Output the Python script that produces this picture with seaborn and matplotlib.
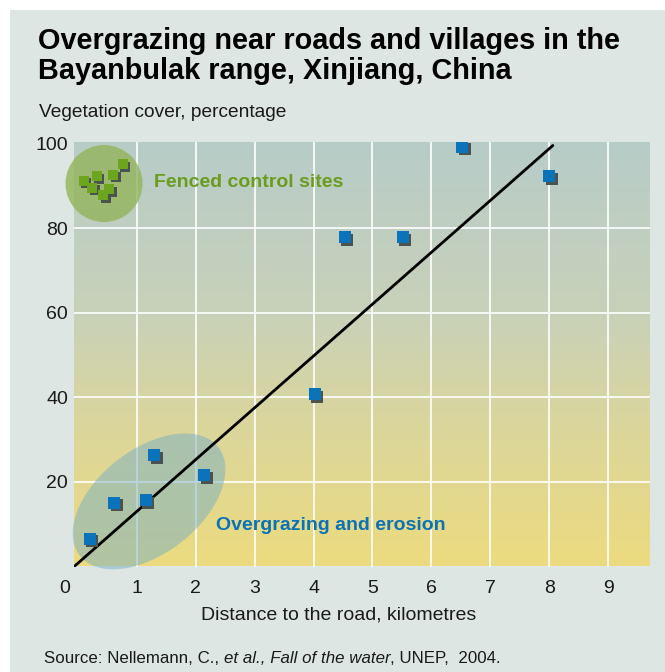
import numpy as np
import matplotlib
matplotlib.use("Agg")
import matplotlib.pyplot as plt
import seaborn as sns
from matplotlib import font_manager
from matplotlib.colors import LinearSegmentedColormap
from matplotlib.patches import Ellipse, Rectangle
from matplotlib.transforms import ScaledTranslation

# roadside / village sites (blue) and fenced control sites (green)
road_km = [0.20, 0.62, 1.15, 1.30, 2.15, 4.02, 4.53, 5.51, 6.52, 8.00]
road_cover = [6.6, 15.1, 15.7, 26.4, 21.6, 40.8, 78.0, 78.0, 99.3, 92.4]
fenced_km = [0.10, 0.24, 0.32, 0.43, 0.53, 0.60, 0.76]
fenced_cover = [91.3, 89.6, 92.4, 87.9, 89.3, 92.7, 95.2]
trend_km = [-0.06, 8.06]
trend_cover = [0.0, 99.6]
x_ticks = list(range(10))
y_ticks = [20, 40, 60, 80, 100]

names = {f.name for f in font_manager.fontManager.ttflist}
FONT = 'Liberation Sans Narrow' if 'Liberation Sans Narrow' in names else 'Liberation Sans'

sns.set_theme(style="white")
plt.rcParams['font.family'] = [FONT, 'DejaVu Sans']

DPI = 100
fig = plt.figure(figsize=(6.65, 6.72), dpi=DPI, facecolor='white')
fig.add_artist(Rectangle((10/665, 0), 1, 662/672, transform=fig.transFigure,
                         facecolor='#dde6e3', edgecolor='none', zorder=-1))

ax = fig.add_axes([74/665, (672-566.5)/672, 576/665, 424.8/672])
ax.set_facecolor('none')
XL = (-0.063, 9.708)
YL = (0, 100.5)

# background gradient, yellow at the bottom to grey-teal at the top
cmap = LinearSegmentedColormap.from_list('bg', [(0, '#ecdb7f'), (0.3, '#dcd699'),
                                                (0.6, '#c8d1b9'), (1, '#b7ccc8')])
ax.imshow(np.linspace(1, 0, 256).reshape(-1, 1), cmap=cmap, aspect='auto',
          extent=[XL[0], XL[1], YL[0], YL[1]], zorder=0, vmin=0, vmax=1)

for xv in x_ticks[1:]:
    ax.axvline(xv, color='white', lw=1.2, zorder=1)
for yv in y_ticks[:-1]:
    ax.axhline(yv, color='white', lw=1.2, zorder=1)


def blob(cx, cy, w_px, h_px, angle, color, alpha):
    tr = fig.dpi_scale_trans + ScaledTranslation(cx, cy, ax.transData)
    e = Ellipse((0, 0), w_px/DPI, h_px/DPI, angle=angle, transform=tr,
                facecolor=color, edgecolor='none', alpha=alpha, zorder=2, clip_on=False)
    ax.add_patch(e)


blob(0.446, 90.6, 77, 77, 0, '#93b45a', 0.8)
blob(1.21, 15.4, 176, 104, 38, '#78afc4', 0.5)

sns.lineplot(x=trend_km, y=trend_cover, color='black', lw=2.0, ax=ax, zorder=3)

shadow = ax.transData + ScaledTranslation(2.7/DPI, -2.7/DPI, fig.dpi_scale_trans)
for xs, ys, col, sz in [(road_km, road_cover, '#0a73ba', 63), (fenced_km, fenced_cover, '#6ea51f', 57)]:
    sns.scatterplot(x=xs, y=ys, marker='s', s=sz, color='#4b5350', linewidth=0, ax=ax, zorder=4)
    ax.collections[-1].set_offset_transform(shadow)
    sns.scatterplot(x=xs, y=ys, marker='s', s=sz, color=col, linewidth=0, ax=ax, zorder=5)

ax.text(1.30, 90.9, 'Fenced control sites', color='#6a9c1e', fontsize=14,
        fontweight='bold', va='center', ha='left', zorder=6)
ax.text(2.34, 9.7, 'Overgrazing and erosion', color='#0a72b8', fontsize=14,
        fontweight='bold', va='center', ha='left', zorder=6)

ax.set_xlim(*XL)
ax.set_ylim(*YL)
ax.set_xticks(x_ticks)
ax.set_yticks(y_ticks)
ax.tick_params(axis='x', length=0, pad=10, labelsize=14, colors='#1a1a1a')
ax.tick_params(axis='y', length=0, pad=4.3, labelsize=14, colors='#1a1a1a')
lbl0 = ax.get_xticklabels()[0]
lbl0.set_transform(lbl0.get_transform() + ScaledTranslation(-13/DPI, 0, fig.dpi_scale_trans))
for s in ax.spines.values():
    s.set_visible(False)


def fx(px):
    return px / 665


def fy(py):
    return 1 - py / 672


fig.text(fx(38), fy(49), 'Overgrazing near roads and villages in the', fontsize=20.8,
         fontweight='bold', va='baseline', ha='left', color='black')
fig.text(fx(38), fy(79), 'Bayanbulak range, Xinjiang, China', fontsize=20.8,
         fontweight='bold', va='baseline', ha='left', color='black')
fig.text(fx(39), fy(116.7), 'Vegetation cover, percentage', fontsize=13.8,
         va='baseline', ha='left', color='#1a1a1a')
fig.text(fx(338.4), fy(620), 'Distance to the road, kilometres', fontsize=14,
         va='baseline', ha='center', color='#1a1a1a')

t1 = fig.text(fx(43.7), fy(666), 'Source: Nellemann, C., ', fontsize=12.2,
              va='bottom', ha='left', color='#1a1a1a')
a2 = ax.annotate('et al., Fall of the water', xy=(1, 0), xycoords=t1, fontsize=12.2,
                 style='italic', va='bottom', ha='left', color='#1a1a1a', annotation_clip=False)
ax.annotate(', UNEP,  2004.', xy=(1, 0), xycoords=a2, fontsize=12.2,
            va='bottom', ha='left', color='#1a1a1a', annotation_clip=False)

fig.savefig('out.png', dpi=DPI)
